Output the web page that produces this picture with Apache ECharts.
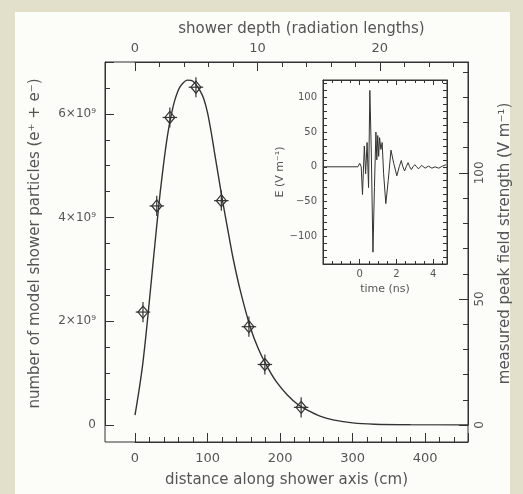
<!DOCTYPE html>
<html>
<head>
<meta charset="utf-8">
<script src="https://cdn.jsdelivr.net/npm/echarts@6/dist/echarts.min.js"></script>
<style>
  html, body { margin: 0; padding: 0; }
  body { width: 523px; height: 494px; background: #e2dfcb; position: relative; overflow: hidden; }
  #panel { position: absolute; left: 15px; top: 12px; width: 495px; height: 482px; background: #fcfcf9; }
  #chart { position: absolute; left: 0; top: 0; width: 523px; height: 494px; }
</style>
</head>
<body>
<div id="panel"></div>
<div id="chart"></div>
<script>
// Model shower curve: distance along shower axis (cm) vs particles (units of 1e9)
const curveX = [0, 5, 10, 15, 20, 25, 30, 35, 40, 45, 50, 55, 62, 72, 80, 90, 95, 100, 105, 110, 115, 121, 128, 135, 145, 159, 170, 182, 195, 210, 225, 237, 255, 273, 300, 330, 380, 459];
const curveY = [0.19, 0.62, 1.10, 1.72, 2.42, 3.14, 3.85, 4.52, 5.10, 5.60, 5.98, 6.27, 6.52, 6.65, 6.63, 6.44, 6.28, 6.02, 5.65, 5.22, 4.80, 4.30, 3.76, 3.23, 2.60, 1.88, 1.47, 1.13, 0.83, 0.58, 0.39, 0.29, 0.17, 0.10, 0.04, 0.015, 0.005, 0.0];

// Measured peak field strength (V/m) with error bars
const pointX = [11, 30, 48, 84, 119, 157, 179, 229];
const pointY = [44.8, 86.9, 122, 134, 89, 39, 24, 7];
const pointErrX = [10, 10, 10, 10, 10, 10, 10, 10];
const pointErrY = [4, 4, 4, 4, 4, 4, 4, 4];

// Inset waveform: time (ns) vs E (V/m)
const waveT = [-2.0, -0.1, 0.0, 0.08, 0.15, 0.25, 0.32, 0.4, 0.48, 0.55, 0.63, 0.72, 0.8, 0.88, 0.93, 0.98, 1.03, 1.08, 1.15, 1.22, 1.3, 1.42, 1.55, 1.7, 1.85, 2.02, 2.15, 2.26, 2.35, 2.44, 2.53, 2.63, 2.72, 2.81, 2.9, 3.0, 3.1, 3.2, 3.37, 3.56, 3.74, 3.93, 4.1, 4.3, 4.5, 4.7];
const waveE = [0, 0, 5, 0, -40, 30, -10, 35, -30, 110, 20, -123, -30, 50, 10, 45, 15, 42, 25, 35, -10, -53, -20, 24, 5, -13, 0, 9, 0, -6, 0, 6, 0, -4, 0, 3, 0, -3, 2, -2, 1, -2, 0, -2, 1, 3];

const INK = '#333333';
const TXT = '#555555';
const FONT = 'DejaVu Sans';

const X_MAX = 459, Y_MAX = 7.0, F_MAX = 144, X0_MAX = 27.2;

function ticks(len, minorLen, split) {
  return {
    axisTick: { show: true, inside: true, length: len, lineStyle: { color: INK, width: 1 } },
    minorTick: split ? { show: true, splitNumber: split, length: minorLen, lineStyle: { color: INK, width: 1 } } : { show: false }
  };
}
function axis(extra) {
  return Object.assign({
    type: 'value',
    splitLine: { show: false },
    minorSplitLine: { show: false },
    axisLine: { show: true, onZero: false, lineStyle: { color: INK, width: 1 } },
    nameLocation: 'middle'
  }, extra);
}
const hidden = (gridIndex, min, max) => ({ type: 'value', gridIndex: gridIndex, show: false, min: min, max: max, splitLine: { show: false } });
const only = (step, fmt) => v => (Math.abs(v / step - Math.round(v / step)) < 1e-6 ? fmt(v) : '');
const mainName = { color: TXT, fontSize: 15, fontFamily: FONT };
const insetName = { color: TXT, fontSize: 11, fontFamily: FONT };
const G = (o) => Object.assign({ outerBoundsMode: 'none', containLabel: false }, o);

const chart = echarts.init(document.getElementById('chart'), null, { renderer: 'canvas' });
chart.setOption({
  animation: false,
  backgroundColor: 'transparent',
  grid: [
    G({ left: 105, top: 62, width: 363, height: 380, show: true, borderColor: INK, borderWidth: 1, backgroundColor: 'transparent' }), // frame
    G({ left: 135, top: 62, width: 333, height: 363 }),                                                                                // data
    G({ left: 323, top: 80, width: 124, height: 184, show: true, borderColor: INK, borderWidth: 1, backgroundColor: '#fdfdfb' }),       // inset
    G({ left: 135, top: 62, width: 333, height: 380 }),                                                                                // bottom axis
    G({ left: 105, top: 62, width: 363, height: 363 })                                                                                 // left axis
  ],
  xAxis: [
    { type: 'value', gridIndex: 0, min: 0, max: 1, position: 'bottom',
      axisLine: { show: false }, axisTick: { show: false }, axisLabel: { show: false }, splitLine: { show: false },
      name: 'distance along shower axis (cm)', nameLocation: 'middle', nameGap: 31, nameTextStyle: mainName },
    hidden(1, 0, X_MAX),
    axis(Object.assign({ gridIndex: 1, position: 'top', min: 0, max: X0_MAX, interval: 10,
      axisLabel: { color: TXT, fontSize: 13, fontFamily: FONT, margin: 7, formatter: only(10, v => String(v)) },
      name: 'shower depth (radiation lengths)', nameGap: 25, nameTextStyle: mainName }, ticks(9, 5, 5))),
    axis(Object.assign({ gridIndex: 2, position: 'bottom', min: -2, max: 4.75, interval: 2,
      axisLabel: { color: TXT, fontSize: 10, fontFamily: FONT, margin: 5, formatter: v => (v === 0 || v === 2 || v === 4) ? String(v) : '' },
      name: 'time (ns)', nameGap: 20, nameTextStyle: insetName }, ticks(5, 3, 4))),
    axis(Object.assign({ gridIndex: 2, position: 'top', min: -2, max: 4.75, interval: 2,
      axisLabel: { show: false } }, ticks(5, 3, 4))),
    axis(Object.assign({ gridIndex: 3, position: 'bottom', min: 0, max: X_MAX, interval: 100,
      axisLabel: { color: TXT, fontSize: 13, fontFamily: FONT, margin: 10, formatter: only(100, v => String(v)) } }, ticks(9, 5, 5))),
    hidden(4, 0, 1)
  ],
  yAxis: [
    hidden(0, 0, 1),
    hidden(1, 0, Y_MAX),
    axis(Object.assign({ gridIndex: 1, position: 'right', min: 0, max: F_MAX, interval: 50,
      axisLabel: { color: TXT, fontSize: 12, fontFamily: FONT, margin: 6, rotate: 90, formatter: only(50, v => String(v)) },
      name: 'measured peak field strength (V m⁻¹)', nameGap: 30, nameRotate: 90, nameTextStyle: mainName }, ticks(9, 5, 5))),
    axis(Object.assign({ gridIndex: 2, position: 'left', min: -140, max: 125, interval: 10,
      axisLabel: { color: TXT, fontSize: 10, fontFamily: FONT, margin: 6, formatter: only(50, v => String(v).replace('-', '−')) },
      name: 'E (V m⁻¹)', nameGap: 27, nameRotate: 90, nameTextStyle: insetName }, ticks(4, 0, 0))),
    axis(Object.assign({ gridIndex: 2, position: 'right', min: -140, max: 125, interval: 10,
      axisLabel: { show: false } }, ticks(4, 0, 0))),
    hidden(3, 0, 1),
    axis(Object.assign({ gridIndex: 4, position: 'left', min: 0, max: Y_MAX, interval: 2,
      axisLabel: { color: TXT, fontSize: 12, fontFamily: FONT, margin: 9, formatter: only(2, v => v === 0 ? '0' : v + '×10⁹') },
      name: 'number of model shower particles (e⁺ + e⁻)', nameGap: 62, nameRotate: 90, nameTextStyle: mainName }, ticks(9, 5, 4)))
  ],
  series: [
    {
      type: 'line', xAxisIndex: 1, yAxisIndex: 1,
      data: curveX.map((x, i) => [x, curveY[i]]),
      showSymbol: false, smooth: 0.25,
      lineStyle: { color: INK, width: 1.4 }, z: 3
    },
    {
      type: 'custom', xAxisIndex: 1, yAxisIndex: 2,
      data: pointX.map((x, i) => [x, pointY[i], pointErrX[i], pointErrY[i]]),
      encode: { x: 0, y: 1 },
      renderItem: function (params, api) {
        const x = api.value(0), y = api.value(1), ex = api.value(2), ey = api.value(3);
        const c = api.coord([x, y]);
        const l = api.coord([x - ex, y]), r = api.coord([x + ex, y]);
        const t = api.coord([x, y + ey]), b = api.coord([x, y - ey]);
        const w = 5, h = 6;
        const st = { stroke: INK, lineWidth: 1.2, fill: null };
        return {
          type: 'group',
          children: [
            { type: 'line', shape: { x1: l[0], y1: c[1], x2: r[0], y2: c[1] }, style: st },
            { type: 'line', shape: { x1: c[0], y1: t[1], x2: c[0], y2: b[1] }, style: st },
            { type: 'polygon', shape: { points: [[c[0], c[1] - h], [c[0] + w, c[1]], [c[0], c[1] + h], [c[0] - w, c[1]]] }, style: st }
          ]
        };
      },
      z: 4
    },
    {
      type: 'line', xAxisIndex: 3, yAxisIndex: 3,
      data: waveT.map((t, i) => [t, waveE[i]]),
      showSymbol: false,
      lineStyle: { color: INK, width: 1 }, z: 5
    }
  ]
});
</script>
</body>
</html>
